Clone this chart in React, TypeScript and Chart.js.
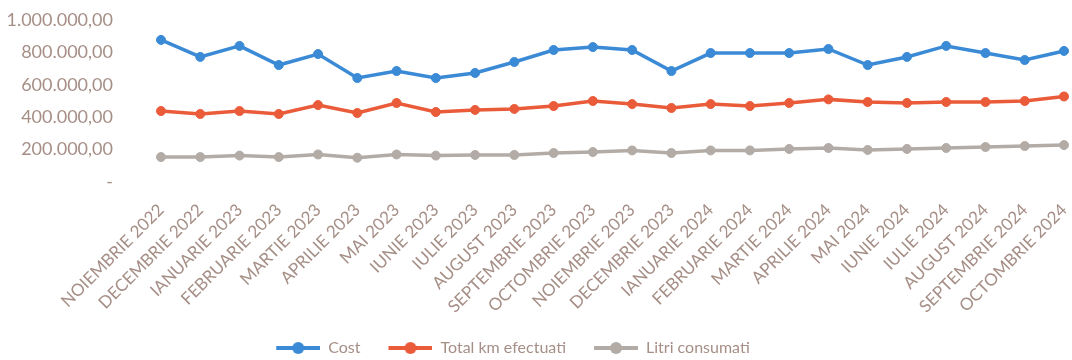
import React, { useEffect, useRef } from "react";
import { Chart, registerables } from "chart.js";

Chart.register(...registerables);

const months = [
  "NOIEMBRIE 2022", "DECEMBRIE 2022", "IANUARIE 2023", "FEBRUARIE 2023", "MARTIE 2023", "APRILIE 2023",
  "MAI 2023", "IUNIE 2023", "IULIE 2023", "AUGUST 2023", "SEPTEMBRIE 2023", "OCTOMBRIE 2023",
  "NOIEMBRIE 2023", "DECEMBRIE 2023", "IANUARIE 2024", "FEBRUARIE 2024", "MARTIE 2024", "APRILIE 2024",
  "MAI 2024", "IUNIE 2024", "IULIE 2024", "AUGUST 2024", "SEPTEMBRIE 2024", "OCTOMBRIE 2024",
];

const costValues = [
  877000, 772000, 840000, 722000, 790000, 642000, 685000, 642000, 673000, 741000, 815000, 833000,
  815000, 685000, 796000, 796000, 796000, 821000, 722000, 772000, 840000, 796000, 753000, 809000,
];

const kmValues = [
  438000, 420000, 438000, 420000, 475000, 426000, 488000, 432000, 445000, 451000, 469000, 500000,
  481000, 457000, 481000, 469000, 488000, 510000, 494000, 488000, 494000, 494000, 500000, 528000,
];

const litriValues = [
  154000, 154000, 163000, 154000, 170000, 150000, 170000, 163000, 167000, 167000, 179000, 185000,
  195000, 179000, 195000, 195000, 204000, 210000, 198000, 204000, 210000, 216000, 222000, 228000,
];

const seriesNames = ["Cost", "Total km efectuati", "Litri consumati"];
const seriesColors = ["#3b8ad6", "#ea5b3a", "#b3aca6"];

const yMin = 0;
const yMax = 1000000;
const yStep = 200000;

function formatRo(v: number): string {
  if (v === 0) return "-";
  const intPart = Math.round(v).toString().replace(/\B(?=(\d{3})+(?!\d))/g, ".");
  return intPart + ",00";
}

function makeLegendMarker(color: string): HTMLCanvasElement {
  const c = document.createElement("canvas");
  c.width = 62;
  c.height = 14;
  const ctx = c.getContext("2d")!;
  ctx.strokeStyle = color;
  ctx.lineWidth = 4;
  ctx.beginPath();
  ctx.moveTo(18, 7);
  ctx.lineTo(62, 7);
  ctx.stroke();
  ctx.fillStyle = color;
  ctx.beginPath();
  ctx.arc(40, 7, 6, 0, Math.PI * 2);
  ctx.fill();
  return c;
}

export default function App() {
  const ref = useRef<HTMLCanvasElement | null>(null);

  useEffect(() => {
    if (!ref.current) return;
    const markers = seriesColors.map(makeLegendMarker);
    const valueSets = [costValues, kmValues, litriValues];
    const textColor = "#a68f87";
    const legendShift = {
      id: "legendShift",
      afterLayout(ch: any) {
        const lg = ch.legend;
        if (!lg) return;
        lg.left -= 28;
        lg.right -= 28;
        lg.top += 6;
        lg.bottom += 6;
      },
    };
    const chart = new Chart(ref.current, {
      type: "line",
      data: {
        labels: months,
        datasets: valueSets.map((vals, i) => ({
          label: seriesNames[i],
          data: vals,
          borderColor: seriesColors[i],
          backgroundColor: seriesColors[i],
          pointBackgroundColor: seriesColors[i],
          pointBorderColor: seriesColors[i],
          borderWidth: 3.5,
          pointRadius: 4.5,
          pointBorderWidth: 1,
          tension: 0,
        })),
      },
      options: {
        responsive: false,
        animation: false,
        layout: { padding: { top: 20, right: 8, left: 0, bottom: 0 } },
        scales: {
          x: {
            grid: { display: false },
            border: { display: false },
            ticks: {
              autoSkip: false,
              maxRotation: 45,
              minRotation: 45,
              color: textColor,
              font: { family: "Lato", size: 17 },
              padding: 10,
            },
            afterFit: (scale: any) => {
              scale.height = 142;
              scale.paddingLeft = 0;
              scale.paddingRight = 0;
            },
          },
          y: {
            min: yMin,
            max: yMax,
            grid: { display: false },
            border: { display: false },
            ticks: {
              autoSkip: false,
              stepSize: yStep,
              color: textColor,
              font: { family: "Lato", size: 18 },
              padding: 40,
              callback: (v: any) => formatRo(Number(v)),
            },
            afterFit: (scale: any) => {
              scale.width = 161;
              scale.paddingTop = 0;
              scale.paddingBottom = 0;
            },
          },
        },
        plugins: {
          tooltip: { enabled: false },
          legend: {
            position: "bottom",
            labels: {
              usePointStyle: true,
              pointStyleWidth: 62,
              padding: 10,
              color: textColor,
              font: { family: "Lato", size: 16 },
              generateLabels: (ch: any) => {
                const items = Chart.defaults.plugins.legend.labels.generateLabels(ch);
                return items.map((it: any, i: number) => ({ ...it, pointStyle: markers[i] }));
              },
            },
          },
        },
      } as any,
      plugins: [legendShift],
    });
    return () => chart.destroy();
  }, []);

  return (
    <div style={{ position: "absolute", left: 0, top: 0, width: 1072, height: 360, background: "#fff" }}>
      <canvas ref={ref} width={1072} height={360} />
    </div>
  );
}
